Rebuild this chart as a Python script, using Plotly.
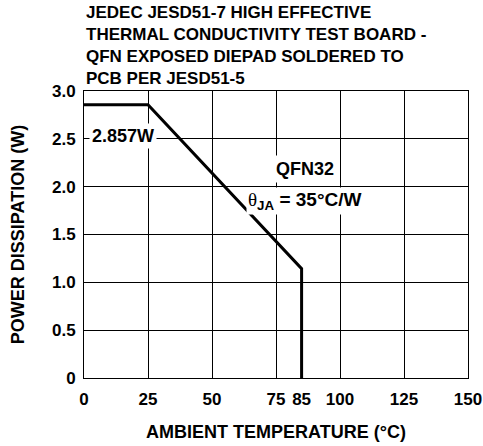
import plotly.graph_objects as go

# Data
temps = [0, 25, 85, 85]
power = [2.857, 2.857, 1.143, 0]
x_ticks = [0, 25, 50, 75, 100, 125, 150]
x_extra_tick = [85]
y_ticks = [0, 0.5, 1.0, 1.5, 2.0, 2.5, 3.0]
y_tick_text = ["0", "0.5", "1.0", "1.5", "2.0", "2.5", "3.0"]
title_lines = ["JEDEC JESD51-7 HIGH EFFECTIVE",
               "THERMAL CONDUCTIVITY TEST BOARD -",
               "QFN EXPOSED DIEPAD SOLDERED TO",
               "PCB PER JESD51-5"]

FONT = "Liberation Sans, Arial, sans-serif"
tickfont = dict(family=FONT, size=17, color="black", weight="bold")

fig = go.Figure()
fig.add_trace(go.Scatter(x=temps, y=power, mode="lines",
                         line=dict(color="black", width=3),
                         hoverinfo="skip", showlegend=False))
fig.add_trace(go.Scatter(x=x_extra_tick, y=[0], mode="none", xaxis="x2",
                         hoverinfo="skip", showlegend=False))

fig.update_layout(
    width=483, height=446,
    margin=dict(l=84, r=15, t=91, b=68),
    paper_bgcolor="white", plot_bgcolor="white",
    showlegend=False,
    xaxis=dict(range=[0, 150], tickmode="array", tickvals=x_ticks,
               showgrid=True, gridcolor="black", gridwidth=1,
               showline=True, linecolor="black", linewidth=1, mirror=True,
               zeroline=False, ticks="outside", ticklen=6, tickcolor="rgba(0,0,0,0)",
               tickfont=tickfont, automargin=False,
               title=dict(text="AMBIENT TEMPERATURE (°C)",
                          font=dict(family=FONT, size=18, color="black", weight="bold"),
                          standoff=16)),
    xaxis2=dict(range=[0, 150], overlaying="x", anchor="y", side="bottom",
                tickmode="array", tickvals=x_extra_tick,
                showgrid=False, showline=False, zeroline=False,
                ticks="outside", ticklen=6, tickcolor="rgba(0,0,0,0)",
                tickfont=tickfont, automargin=False),
    yaxis=dict(range=[0, 3.0], tickmode="array", tickvals=y_ticks, ticktext=y_tick_text,
               showgrid=True, gridcolor="black", gridwidth=1,
               showline=True, linecolor="black", linewidth=1, mirror=True,
               zeroline=False, ticks="outside", ticklen=4, tickcolor="rgba(0,0,0,0)",
               tickfont=tickfont, automargin=False,
               title=dict(text="POWER DISSIPATION (W)",
                          font=dict(family=FONT, size=18, color="black", weight="bold"),
                          standoff=22)),
)

annfont = dict(family=FONT, size=18, color="black", weight="bold")
fig.add_annotation(xref="paper", yref="paper", x=0, y=1, xanchor="left", yanchor="bottom",
                   yshift=1, align="left", showarrow=False,
                   text="<br>".join(title_lines),
                   font=dict(family=FONT, size=17, color="black", weight="bold"))
fig.add_annotation(x=15.4, y=2.53, text="2.857W", showarrow=False,
                   bgcolor="white", borderpad=2, font=annfont)
fig.add_annotation(x=86.5, y=2.18, text="QFN32", showarrow=False,
                   bgcolor="white", borderpad=3, font=annfont)
fig.add_annotation(x=86.3, y=1.85,
                   text="<span style=\"font-family:'Liberation Serif';font-weight:normal\">θ</span><sub>JA</sub> = 35°C/W",
                   showarrow=False, bgcolor="white", borderpad=1,
                   font=dict(family=FONT, size=19, color="black", weight="bold"))

fig.write_html("out.html", config={"displayModeBar": False},
               post_script="document.body.style.margin='0';document.body.style.overflow='hidden';")
